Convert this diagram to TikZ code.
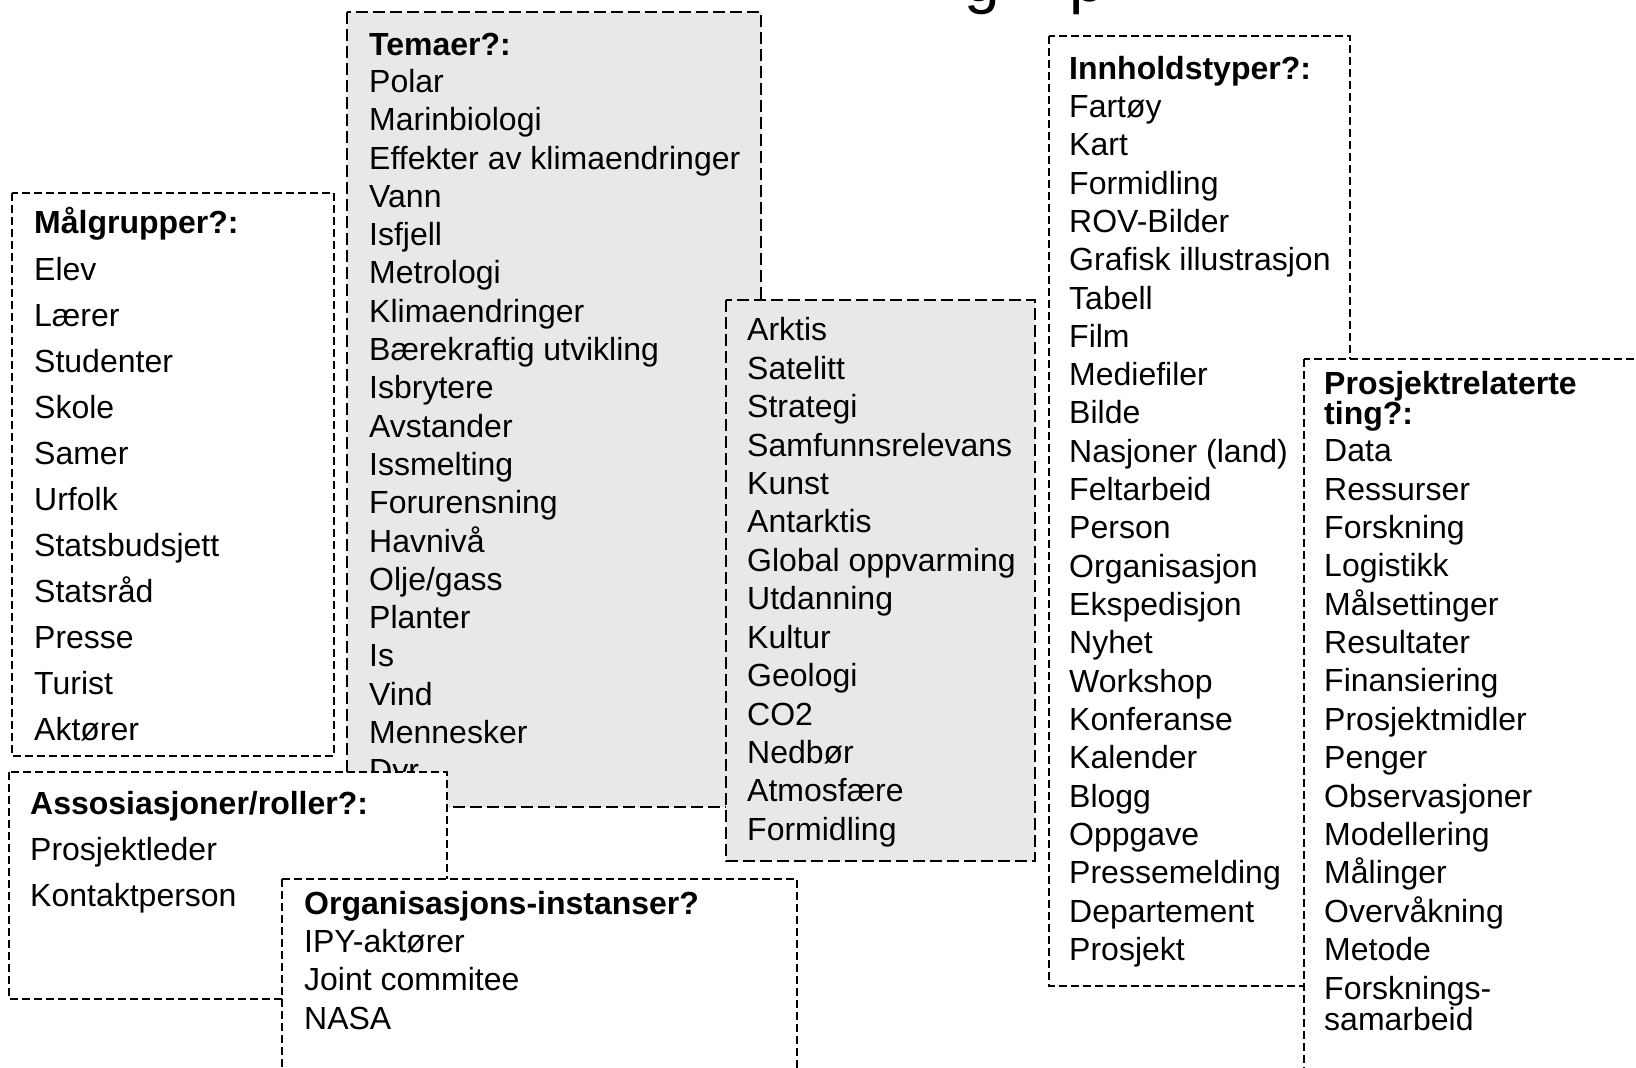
\documentclass[tikz,border=0pt]{standalone}
\usepackage{fontspec}
\setmainfont{Liberation Sans}
\definecolor{boxgray}{HTML}{E8E8E8}

\begin{document}
\begin{tikzpicture}[x=1pt, y=-1pt,
    item/.style={anchor=base west, inner sep=0pt, font=\fontsize{32}{38}\selectfont},
    head/.style={item, font=\fontsize{32}{38}\selectfont\bfseries},
    graybox/.style={draw, fill=boxgray, line width=2.5pt, dash pattern=on 12pt off 5pt},
    whitebox/.style={draw, fill=white, line width=1.7pt, dash pattern=on 8pt off 4pt}]
    \useasboundingbox (0,0) rectangle (1636,1068);

    % Title (only the descenders show)
    \node[anchor=base west, inner sep=0pt, font=\fontsize{64}{70}\selectfont] (tit1) at (964,1.5) {g};
    \node[anchor=base west, inner sep=0pt, font=\fontsize{64}{70}\selectfont] (tit2) at (1069,1.5) {p};

    % Temaer
    \draw[graybox] (347,12) rectangle (761,807);
    \node[head] (temhead) at (369,55) {Temaer?:};
    \foreach \t [count=\i from 0] in {Polar, Marinbiologi, Effekter av klimaendringer, Vann, Isfjell,
        Metrologi, Klimaendringer, Bærekraftig utvikling, Isbrytere, Avstander, Issmelting,
        Forurensning, Havnivå, Olje/gass, Planter, Is, Vind, Mennesker, Dyr}
        \node[item] (tem\i) at (369,92.4+38.3*\i) {\t};

    % Malgrupper
    \draw[whitebox] (12,193) rectangle (334,756);
    \node[head] (malhead) at (34,233) {Målgrupper?:};
    \foreach \t [count=\i from 0] in {Elev, Lærer, Studenter, Skole, Samer, Urfolk,
        Statsbudsjett, Statsråd, Presse, Turist, Aktører}
        \node[item] (mal\i) at (34,280+46*\i) {\t};

    % Arktis
    \draw[graybox] (726,300) rectangle (1035,861);
    \foreach \t [count=\i from 0] in {Arktis, Satelitt, Strategi, Samfunnsrelevans, Kunst,
        Antarktis, Global oppvarming, Utdanning, Kultur, Geologi, CO2, Nedbør,
        Atmosfære, Formidling}
        \node[item] (ark\i) at (747,340.7+38.44*\i) {\t};

    % Assosiasjoner
    \draw[whitebox] (9,772) rectangle (447,999);
    \node[head] (asshead) at (30,814) {Assosiasjoner/roller?:};
    \node[item] (ass0) at (30,860) {Prosjektleder};
    \node[item] (ass1) at (30,906) {Kontaktperson};

    % Organisasjoner
    \draw[whitebox] (282,879) rectangle (797,1100);
    \node[head] (orghead) at (304,914.6) {Organisasjons-instanser?};
    \foreach \t [count=\i from 0] in {IPY-aktører, Joint commitee, NASA}
        \node[item] (org\i) at (304,952+38.5*\i) {\t};

    % Innholdstyper
    \draw[whitebox] (1049,36) rectangle (1350,986);
    \node[head] (innhead) at (1069,79) {Innholdstyper?:};
    \foreach \t [count=\i from 0] in {Fartøy, Kart, Formidling, ROV-Bilder, Grafisk illustrasjon,
        Tabell, Film, Mediefiler, Bilde, Nasjoner (land), Feltarbeid, Person, Organisasjon,
        Ekspedisjon, Nyhet, Workshop, Konferanse, Kalender, Blogg, Oppgave, Pressemelding,
        Departement, Prosjekt}
        \node[item] (inn\i) at (1069,117.4+38.32*\i) {\t};

    % Prosjektrelaterte
    \draw[whitebox] (1304,359) rectangle (1700,1100);
    \node[head] (prohead) at (1324,394) {Prosjektrelaterte};
    \node[head] (prohead2) at (1324,424) {ting?:};
    \foreach \t [count=\i from 0] in {Data, Ressurser, Forskning, Logistikk, Målsettinger,
        Resultater, Finansiering, Prosjektmidler, Penger, Observasjoner, Modellering,
        Målinger, Overvåkning, Metode}
        \node[item] (pro\i) at (1324,461.7+38.38*\i) {\t};
    \node[item] (pro14) at (1324,999) {Forsknings-};
    \node[item] (pro15) at (1324,1030) {samarbeid};
\end{tikzpicture}
\end{document}
